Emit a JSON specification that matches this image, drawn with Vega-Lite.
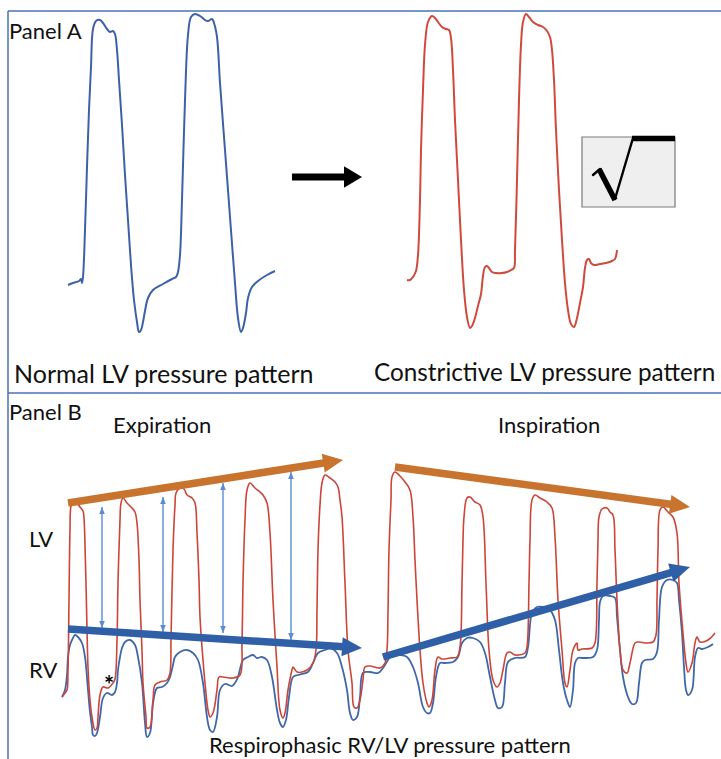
{
  "$schema": "https://vega.github.io/schema/vega-lite/v6.json",
  "width": 721,
  "height": 759,
  "padding": 0,
  "autosize": {"type": "none"},
  "background": "white",
  "config": {"view": {"stroke": null}},
  "datasets": {
    "frame": [
      {"x": 8, "y": 11, "x2": 721, "y2": 11},
      {"x": 8, "y": 11, "x2": 8, "y2": 759},
      {"x": 8, "y": 393, "x2": 721, "y2": 393}
    ],
    "normalA": [
      {"x": 68, "y": 285}, {"x": 73, "y": 283}, {"x": 79, "y": 281}, {"x": 81, "y": 279}, {"x": 82, "y": 283}, {"x": 83, "y": 277},
      {"x": 85, "y": 230}, {"x": 87, "y": 167}, {"x": 89, "y": 110}, {"x": 91, "y": 67}, {"x": 93, "y": 29}, {"x": 96, "y": 21},
      {"x": 100, "y": 20}, {"x": 103, "y": 23}, {"x": 107, "y": 29}, {"x": 110, "y": 32}, {"x": 113, "y": 31}, {"x": 115, "y": 34},
      {"x": 117, "y": 50}, {"x": 119, "y": 80}, {"x": 122, "y": 125}, {"x": 125, "y": 175}, {"x": 128, "y": 220}, {"x": 131, "y": 265},
      {"x": 134, "y": 300}, {"x": 137, "y": 322}, {"x": 139, "y": 332}, {"x": 141, "y": 330}, {"x": 143, "y": 322}, {"x": 145, "y": 311},
      {"x": 148, "y": 298}, {"x": 153, "y": 290}, {"x": 163, "y": 284}, {"x": 172, "y": 279}, {"x": 176, "y": 277}, {"x": 178, "y": 272},
      {"x": 180, "y": 255}, {"x": 182, "y": 200}, {"x": 185, "y": 100}, {"x": 188, "y": 35}, {"x": 191, "y": 17}, {"x": 195, "y": 14},
      {"x": 200, "y": 16}, {"x": 205, "y": 20}, {"x": 208, "y": 21}, {"x": 212, "y": 19}, {"x": 214, "y": 23}, {"x": 217, "y": 37},
      {"x": 220, "y": 83}, {"x": 225, "y": 150}, {"x": 230, "y": 217}, {"x": 235, "y": 283}, {"x": 238, "y": 318}, {"x": 241, "y": 332},
      {"x": 243, "y": 328}, {"x": 246, "y": 313}, {"x": 248, "y": 298}, {"x": 252, "y": 287}, {"x": 258, "y": 281}, {"x": 267, "y": 275},
      {"x": 275, "y": 271}
    ],
    "constrictA": [
      {"x": 407, "y": 280}, {"x": 410, "y": 280}, {"x": 413, "y": 277}, {"x": 416, "y": 271}, {"x": 418, "y": 255}, {"x": 420, "y": 200},
      {"x": 421, "y": 150}, {"x": 423, "y": 90}, {"x": 425, "y": 45}, {"x": 428, "y": 22}, {"x": 432, "y": 16}, {"x": 435, "y": 18},
      {"x": 438, "y": 22}, {"x": 442, "y": 27}, {"x": 446, "y": 29}, {"x": 449, "y": 30}, {"x": 451, "y": 38}, {"x": 453, "y": 70},
      {"x": 455, "y": 120}, {"x": 458, "y": 180}, {"x": 461, "y": 240}, {"x": 464, "y": 290}, {"x": 467, "y": 317}, {"x": 470, "y": 328},
      {"x": 472, "y": 326}, {"x": 475, "y": 318}, {"x": 478, "y": 306}, {"x": 481, "y": 294}, {"x": 483, "y": 276}, {"x": 485, "y": 267},
      {"x": 487, "y": 266}, {"x": 489, "y": 268}, {"x": 492, "y": 272}, {"x": 496, "y": 273}, {"x": 502, "y": 273}, {"x": 507, "y": 272},
      {"x": 511, "y": 270}, {"x": 514, "y": 268}, {"x": 515, "y": 250}, {"x": 517, "y": 180}, {"x": 519, "y": 100}, {"x": 521, "y": 45},
      {"x": 523, "y": 22}, {"x": 526, "y": 14}, {"x": 529, "y": 17}, {"x": 533, "y": 22}, {"x": 538, "y": 25}, {"x": 543, "y": 27},
      {"x": 547, "y": 31}, {"x": 550, "y": 37}, {"x": 552, "y": 50}, {"x": 554, "y": 80}, {"x": 556, "y": 130}, {"x": 559, "y": 190},
      {"x": 562, "y": 240}, {"x": 565, "y": 283}, {"x": 568, "y": 310}, {"x": 571, "y": 324}, {"x": 574, "y": 327}, {"x": 577, "y": 318},
      {"x": 580, "y": 303}, {"x": 583, "y": 287}, {"x": 585, "y": 268}, {"x": 587, "y": 260}, {"x": 589, "y": 259}, {"x": 591, "y": 263},
      {"x": 594, "y": 265}, {"x": 600, "y": 264}, {"x": 606, "y": 263}, {"x": 612, "y": 261}, {"x": 615, "y": 259}, {"x": 617, "y": 250}
    ],
    "lvB": [
      {"x": 62, "y": 697}, {"x": 65, "y": 693}, {"x": 67, "y": 690}, {"x": 68, "y": 670}, {"x": 69, "y": 600}, {"x": 70, "y": 530},
      {"x": 71, "y": 506}, {"x": 73, "y": 502}, {"x": 75, "y": 502}, {"x": 77, "y": 503}, {"x": 80, "y": 507}, {"x": 83, "y": 511},
      {"x": 84, "y": 518}, {"x": 85, "y": 545}, {"x": 86, "y": 583}, {"x": 87, "y": 630}, {"x": 88, "y": 667}, {"x": 90, "y": 700},
      {"x": 92, "y": 717}, {"x": 95, "y": 730}, {"x": 97, "y": 728}, {"x": 98, "y": 717}, {"x": 100, "y": 695}, {"x": 103, "y": 687},
      {"x": 108, "y": 688}, {"x": 113, "y": 683}, {"x": 115, "y": 679}, {"x": 117, "y": 640}, {"x": 118, "y": 583}, {"x": 120, "y": 520},
      {"x": 121, "y": 503}, {"x": 123, "y": 498}, {"x": 127, "y": 503}, {"x": 132, "y": 508}, {"x": 135, "y": 512}, {"x": 137, "y": 523},
      {"x": 139, "y": 560}, {"x": 140, "y": 600}, {"x": 142, "y": 650}, {"x": 143, "y": 683}, {"x": 146, "y": 717}, {"x": 147, "y": 728},
      {"x": 150, "y": 727}, {"x": 153, "y": 700}, {"x": 155, "y": 685}, {"x": 160, "y": 682}, {"x": 167, "y": 680}, {"x": 170, "y": 673},
      {"x": 171, "y": 640}, {"x": 173, "y": 550}, {"x": 175, "y": 505}, {"x": 176, "y": 493}, {"x": 180, "y": 488}, {"x": 184, "y": 489},
      {"x": 187, "y": 495}, {"x": 192, "y": 498}, {"x": 195, "y": 503}, {"x": 197, "y": 533}, {"x": 199, "y": 580}, {"x": 200, "y": 617},
      {"x": 203, "y": 660}, {"x": 205, "y": 683}, {"x": 208, "y": 710}, {"x": 210, "y": 717}, {"x": 213, "y": 713}, {"x": 217, "y": 690},
      {"x": 219, "y": 677}, {"x": 223, "y": 677}, {"x": 233, "y": 678}, {"x": 240, "y": 675}, {"x": 242, "y": 640}, {"x": 243, "y": 583},
      {"x": 245, "y": 520}, {"x": 247, "y": 490}, {"x": 250, "y": 483}, {"x": 255, "y": 488}, {"x": 260, "y": 492}, {"x": 263, "y": 495},
      {"x": 267, "y": 503}, {"x": 270, "y": 533}, {"x": 273, "y": 600}, {"x": 277, "y": 667}, {"x": 280, "y": 710}, {"x": 283, "y": 718},
      {"x": 285, "y": 713}, {"x": 288, "y": 690}, {"x": 292, "y": 670}, {"x": 293, "y": 667}, {"x": 297, "y": 672}, {"x": 307, "y": 670},
      {"x": 313, "y": 663}, {"x": 316, "y": 650}, {"x": 317, "y": 610}, {"x": 318, "y": 550}, {"x": 320, "y": 505}, {"x": 322, "y": 483},
      {"x": 325, "y": 475}, {"x": 330, "y": 478}, {"x": 335, "y": 482}, {"x": 338, "y": 487}, {"x": 340, "y": 500}, {"x": 342, "y": 517},
      {"x": 345, "y": 583}, {"x": 348, "y": 650}, {"x": 352, "y": 683}, {"x": 354, "y": 707}, {"x": 357, "y": 708}, {"x": 360, "y": 700},
      {"x": 363, "y": 680}, {"x": 365, "y": 667}, {"x": 370, "y": 666}, {"x": 380, "y": 668}, {"x": 385, "y": 663}, {"x": 387, "y": 650},
      {"x": 388, "y": 613}, {"x": 389, "y": 550}, {"x": 391, "y": 500}, {"x": 392, "y": 477}, {"x": 395, "y": 472}, {"x": 400, "y": 476},
      {"x": 405, "y": 482}, {"x": 410, "y": 490}, {"x": 413, "y": 517}, {"x": 415, "y": 560}, {"x": 417, "y": 600}, {"x": 420, "y": 650},
      {"x": 423, "y": 683}, {"x": 427, "y": 703}, {"x": 429, "y": 707}, {"x": 432, "y": 700}, {"x": 435, "y": 670}, {"x": 438, "y": 657},
      {"x": 442, "y": 659}, {"x": 450, "y": 658}, {"x": 457, "y": 657}, {"x": 460, "y": 647}, {"x": 462, "y": 583}, {"x": 463, "y": 540},
      {"x": 464, "y": 517}, {"x": 467, "y": 498}, {"x": 470, "y": 497}, {"x": 475, "y": 502}, {"x": 480, "y": 505}, {"x": 483, "y": 517},
      {"x": 486, "y": 583}, {"x": 489, "y": 650}, {"x": 493, "y": 680}, {"x": 497, "y": 687}, {"x": 500, "y": 683}, {"x": 503, "y": 670},
      {"x": 507, "y": 653}, {"x": 510, "y": 652}, {"x": 515, "y": 655}, {"x": 525, "y": 653}, {"x": 527, "y": 647}, {"x": 529, "y": 583},
      {"x": 530, "y": 540}, {"x": 532, "y": 500}, {"x": 535, "y": 495}, {"x": 540, "y": 498}, {"x": 547, "y": 502}, {"x": 552, "y": 508},
      {"x": 555, "y": 537}, {"x": 558, "y": 600}, {"x": 562, "y": 650}, {"x": 565, "y": 683}, {"x": 567, "y": 687}, {"x": 570, "y": 670},
      {"x": 573, "y": 650}, {"x": 577, "y": 643}, {"x": 578, "y": 650}, {"x": 582, "y": 649}, {"x": 592, "y": 648}, {"x": 595, "y": 643},
      {"x": 597, "y": 583}, {"x": 598, "y": 540}, {"x": 599, "y": 517}, {"x": 602, "y": 509}, {"x": 607, "y": 508}, {"x": 610, "y": 512},
      {"x": 613, "y": 515}, {"x": 615, "y": 550}, {"x": 617, "y": 600}, {"x": 620, "y": 650}, {"x": 623, "y": 670}, {"x": 627, "y": 673},
      {"x": 630, "y": 663}, {"x": 635, "y": 643}, {"x": 638, "y": 642}, {"x": 647, "y": 643}, {"x": 653, "y": 642}, {"x": 656, "y": 635},
      {"x": 657, "y": 600}, {"x": 658, "y": 550}, {"x": 660, "y": 510}, {"x": 663, "y": 507}, {"x": 668, "y": 512}, {"x": 673, "y": 517},
      {"x": 677, "y": 533}, {"x": 679, "y": 583}, {"x": 683, "y": 633}, {"x": 686, "y": 663}, {"x": 688, "y": 672}, {"x": 692, "y": 663},
      {"x": 695, "y": 643}, {"x": 697, "y": 637}, {"x": 700, "y": 642}, {"x": 708, "y": 640}, {"x": 715, "y": 633}
    ],
    "rvB": [
      {"x": 62, "y": 697}, {"x": 65, "y": 690}, {"x": 67, "y": 675}, {"x": 68, "y": 657}, {"x": 70, "y": 645}, {"x": 72, "y": 640},
      {"x": 75, "y": 635}, {"x": 78, "y": 637}, {"x": 82, "y": 643}, {"x": 85, "y": 657}, {"x": 88, "y": 690}, {"x": 90, "y": 712},
      {"x": 92, "y": 727}, {"x": 93, "y": 735}, {"x": 95, "y": 736}, {"x": 97, "y": 733}, {"x": 100, "y": 717}, {"x": 103, "y": 698},
      {"x": 107, "y": 693}, {"x": 112, "y": 695}, {"x": 115, "y": 692}, {"x": 117, "y": 683}, {"x": 118, "y": 670}, {"x": 120, "y": 657},
      {"x": 122, "y": 648}, {"x": 125, "y": 642}, {"x": 130, "y": 640}, {"x": 135, "y": 645}, {"x": 138, "y": 657}, {"x": 142, "y": 683},
      {"x": 145, "y": 723}, {"x": 147, "y": 737}, {"x": 150, "y": 733}, {"x": 153, "y": 703}, {"x": 157, "y": 688}, {"x": 162, "y": 687},
      {"x": 167, "y": 683}, {"x": 170, "y": 677}, {"x": 173, "y": 665}, {"x": 175, "y": 657}, {"x": 180, "y": 652}, {"x": 187, "y": 650},
      {"x": 193, "y": 653}, {"x": 198, "y": 660}, {"x": 203, "y": 683}, {"x": 207, "y": 717}, {"x": 210, "y": 730}, {"x": 213, "y": 732},
      {"x": 217, "y": 717}, {"x": 220, "y": 690}, {"x": 225, "y": 684}, {"x": 232, "y": 686}, {"x": 235, "y": 683}, {"x": 238, "y": 677},
      {"x": 243, "y": 660}, {"x": 248, "y": 657}, {"x": 253, "y": 655}, {"x": 257, "y": 658}, {"x": 262, "y": 657}, {"x": 267, "y": 660},
      {"x": 272, "y": 677}, {"x": 277, "y": 710}, {"x": 280, "y": 723}, {"x": 283, "y": 727}, {"x": 286, "y": 720}, {"x": 289, "y": 697},
      {"x": 293, "y": 677}, {"x": 298, "y": 675}, {"x": 308, "y": 672}, {"x": 313, "y": 663}, {"x": 318, "y": 653}, {"x": 325, "y": 650},
      {"x": 330, "y": 648}, {"x": 337, "y": 653}, {"x": 342, "y": 667}, {"x": 347, "y": 690}, {"x": 350, "y": 713}, {"x": 353, "y": 720},
      {"x": 357, "y": 717}, {"x": 360, "y": 697}, {"x": 363, "y": 673}, {"x": 370, "y": 672}, {"x": 378, "y": 673}, {"x": 383, "y": 668},
      {"x": 388, "y": 660}, {"x": 393, "y": 653}, {"x": 400, "y": 655}, {"x": 407, "y": 657}, {"x": 413, "y": 667}, {"x": 418, "y": 683},
      {"x": 423, "y": 707}, {"x": 427, "y": 713}, {"x": 430, "y": 713}, {"x": 433, "y": 703}, {"x": 436, "y": 677}, {"x": 440, "y": 663},
      {"x": 445, "y": 663}, {"x": 453, "y": 662}, {"x": 458, "y": 657}, {"x": 462, "y": 643}, {"x": 467, "y": 638}, {"x": 473, "y": 638},
      {"x": 480, "y": 642}, {"x": 485, "y": 653}, {"x": 490, "y": 677}, {"x": 495, "y": 700}, {"x": 498, "y": 708}, {"x": 502, "y": 707},
      {"x": 505, "y": 683}, {"x": 508, "y": 662}, {"x": 515, "y": 658}, {"x": 525, "y": 657}, {"x": 528, "y": 647}, {"x": 532, "y": 613},
      {"x": 537, "y": 607}, {"x": 543, "y": 607}, {"x": 550, "y": 610}, {"x": 555, "y": 620}, {"x": 559, "y": 650}, {"x": 563, "y": 683},
      {"x": 567, "y": 700}, {"x": 570, "y": 707}, {"x": 573, "y": 690}, {"x": 575, "y": 663}, {"x": 578, "y": 658}, {"x": 583, "y": 658},
      {"x": 593, "y": 657}, {"x": 597, "y": 650}, {"x": 599, "y": 620}, {"x": 600, "y": 602}, {"x": 603, "y": 596}, {"x": 610, "y": 596},
      {"x": 615, "y": 598}, {"x": 617, "y": 617}, {"x": 620, "y": 650}, {"x": 623, "y": 677}, {"x": 628, "y": 697}, {"x": 632, "y": 704},
      {"x": 636, "y": 703}, {"x": 639, "y": 683}, {"x": 642, "y": 663}, {"x": 645, "y": 660}, {"x": 653, "y": 659}, {"x": 657, "y": 652},
      {"x": 659, "y": 620}, {"x": 662, "y": 587}, {"x": 667, "y": 580}, {"x": 673, "y": 580}, {"x": 677, "y": 583}, {"x": 679, "y": 600},
      {"x": 682, "y": 633}, {"x": 684, "y": 667}, {"x": 686, "y": 690}, {"x": 688, "y": 695}, {"x": 692, "y": 690}, {"x": 695, "y": 657},
      {"x": 698, "y": 648}, {"x": 702, "y": 649}, {"x": 708, "y": 647}, {"x": 713, "y": 644}
    ],
    "bigArrows": [
      {"series": "LV", "x": 68, "y": 503, "x2": 343, "y2": 460},
      {"series": "LV", "x": 395, "y": 467, "x2": 690, "y2": 507},
      {"series": "RV", "x": 68, "y": 629, "x2": 362, "y2": 648},
      {"series": "RV", "x": 383, "y": 657, "x2": 690, "y2": 567}
    ],
    "shiftArrow": [
      {"x": 292, "y": 177, "x2": 362, "y2": 177}
    ],
    "gaps": [
      {"x": 102, "y": 507, "y2": 628},
      {"x": 163, "y": 497, "y2": 632},
      {"x": 223, "y": 483, "y2": 633},
      {"x": 291, "y": 472, "y2": 640}
    ],
    "sqrtBox": [
      {"x": 582, "y": 137, "x2": 675, "y2": 207}
    ],
    "sqrtThick": [
      {"x": 599, "y": 169, "x2": 615, "y2": 200},
      {"x": 632, "y": 138.5, "x2": 675, "y2": 138.5}
    ],
    "sqrtThin": [
      {"x": 593, "y": 175, "x2": 600, "y2": 169},
      {"x": 615, "y": 199, "x2": 633, "y2": 138}
    ],
    "labelNormal": [
      {"label": "Normal LV pressure pattern", "x": 14, "y": 383}
    ],
    "labelConstrictive": [
      {"label": "Constrictive LV pressure pattern", "x": 374, "y": 381}
    ],
    "labelsBottom": [
      {"label": "Respirophasic RV/LV pressure pattern", "x": 209, "y": 753}
    ],
    "labelsSmall": [
      {"label": "Panel A", "x": 9, "y": 39},
      {"label": "Panel B", "x": 9, "y": 420},
      {"label": "Expiration", "x": 113, "y": 433},
      {"label": "Inspiration", "x": 498, "y": 433},
      {"label": "LV", "x": 29, "y": 547},
      {"label": "RV", "x": 29, "y": 678}
    ],
    "marker": [
      {"label": "*", "x": 109, "y": 694}
    ]
  },
  "encoding": {
    "x": {"field": "x", "type": "quantitative", "scale": {"domain": [0, 721], "nice": false, "zero": false}, "axis": null},
    "y": {"field": "y", "type": "quantitative", "scale": {"domain": [0, 759], "nice": false, "zero": false, "reverse": true}, "axis": null}
  },
  "layer": [
    {
      "data": {"name": "frame"},
      "mark": {"type": "rule", "color": "#4a72b8", "strokeWidth": 1.5},
      "encoding": {"x2": {"field": "x2"}, "y2": {"field": "y2"}}
    },
    {
      "data": {"name": "sqrtBox"},
      "mark": {"type": "rect", "fill": "#efefef", "stroke": "#7a7a7a", "strokeWidth": 1.2},
      "encoding": {"x2": {"field": "x2"}, "y2": {"field": "y2"}}
    },
    {
      "data": {"name": "sqrtThick"},
      "mark": {"type": "rule", "color": "#000000", "strokeWidth": 5.5, "strokeCap": "butt"},
      "encoding": {"x2": {"field": "x2"}, "y2": {"field": "y2"}}
    },
    {
      "data": {"name": "sqrtThin"},
      "mark": {"type": "rule", "color": "#000000", "strokeWidth": 2.4, "strokeCap": "round"},
      "encoding": {"x2": {"field": "x2"}, "y2": {"field": "y2"}}
    },
    {
      "data": {"name": "normalA"},
      "transform": [{"window": [{"op": "row_number", "as": "i"}]}],
      "mark": {"type": "line", "color": "#3d61a9", "strokeWidth": 2, "interpolate": "catmull-rom"},
      "encoding": {"order": {"field": "i", "type": "quantitative"}}
    },
    {
      "data": {"name": "constrictA"},
      "transform": [{"window": [{"op": "row_number", "as": "i"}]}],
      "mark": {"type": "line", "color": "#cf4a3c", "strokeWidth": 2, "interpolate": "catmull-rom"},
      "encoding": {"order": {"field": "i", "type": "quantitative"}}
    },
    {
      "data": {"name": "shiftArrow"},
      "transform": [
        {"calculate": "atan2(datum.y2 - datum.y, datum.x2 - datum.x)", "as": "ang"},
        {"calculate": "datum.ang * 180 / PI", "as": "deg"},
        {"calculate": "datum.x2 - 16 * cos(datum.ang)", "as": "xb"},
        {"calculate": "datum.y2 - 16 * sin(datum.ang)", "as": "yb"}
      ],
      "layer": [
        {
          "mark": {"type": "rule", "color": "#000000", "strokeWidth": 7, "strokeCap": "butt"},
          "encoding": {"x2": {"field": "xb"}, "y2": {"field": "yb"}}
        },
        {
          "mark": {"type": "point", "shape": "M0,0L-2,-1.2L-2,1.2Z", "size": 324, "filled": true, "color": "#000000", "opacity": 1, "strokeWidth": 0},
          "encoding": {
            "x": {"field": "x2", "type": "quantitative"},
            "y": {"field": "y2", "type": "quantitative"},
            "angle": {"field": "deg", "type": "quantitative", "scale": null}
          }
        }
      ]
    },
    {
      "data": {"name": "rvB"},
      "transform": [{"window": [{"op": "row_number", "as": "i"}]}],
      "mark": {"type": "line", "color": "#3f67ab", "strokeWidth": 1.8, "interpolate": "catmull-rom"},
      "encoding": {"order": {"field": "i", "type": "quantitative"}}
    },
    {
      "data": {"name": "lvB"},
      "transform": [{"window": [{"op": "row_number", "as": "i"}]}],
      "mark": {"type": "line", "color": "#cc4538", "strokeWidth": 1.6, "interpolate": "catmull-rom"},
      "encoding": {"order": {"field": "i", "type": "quantitative"}}
    },
    {
      "data": {"name": "gaps"},
      "layer": [
        {
          "mark": {"type": "rule", "color": "#5b8bd3", "strokeWidth": 1.4},
          "encoding": {"y2": {"field": "y2"}}
        },
        {
          "mark": {"type": "point", "shape": "M0,0L-0.8,2L0.8,2Z", "size": 49, "filled": true, "color": "#5b8bd3", "opacity": 1, "strokeWidth": 0}
        },
        {
          "mark": {"type": "point", "shape": "M0,0L-0.8,-2L0.8,-2Z", "size": 49, "filled": true, "color": "#5b8bd3", "opacity": 1, "strokeWidth": 0},
          "encoding": {"y": {"field": "y2", "type": "quantitative"}}
        }
      ]
    },
    {
      "data": {"name": "bigArrows"},
      "transform": [
        {"calculate": "atan2(datum.y2 - datum.y, datum.x2 - datum.x)", "as": "ang"},
        {"calculate": "datum.ang * 180 / PI", "as": "deg"},
        {"calculate": "datum.x2 - 18 * cos(datum.ang)", "as": "xb"},
        {"calculate": "datum.y2 - 18 * sin(datum.ang)", "as": "yb"}
      ],
      "layer": [
        {
          "mark": {"type": "rule", "strokeWidth": 7.5, "strokeCap": "butt"},
          "encoding": {
            "x2": {"field": "xb"}, "y2": {"field": "yb"},
            "color": {"field": "series", "type": "nominal", "scale": {"domain": ["LV", "RV"], "range": ["#c8742f", "#2f5fa7"]}, "legend": null}
          }
        },
        {
          "mark": {"type": "point", "shape": "M0,0L-2,-0.95L-2,0.95Z", "size": 400, "filled": true, "opacity": 1, "strokeWidth": 0},
          "encoding": {
            "x": {"field": "x2", "type": "quantitative"},
            "y": {"field": "y2", "type": "quantitative"},
            "angle": {"field": "deg", "type": "quantitative", "scale": null},
            "color": {"field": "series", "type": "nominal", "scale": {"domain": ["LV", "RV"], "range": ["#c8742f", "#2f5fa7"]}, "legend": null}
          }
        }
      ]
    },
    {
      "data": {"name": "labelNormal"},
      "mark": {"type": "text", "font": "Lato", "fontSize": 25, "align": "left", "baseline": "alphabetic", "color": "#111111"},
      "encoding": {"text": {"field": "label"}}
    },
    {
      "data": {"name": "labelConstrictive"},
      "mark": {"type": "text", "font": "Lato", "fontSize": 24.3, "align": "left", "baseline": "alphabetic", "color": "#111111"},
      "encoding": {"text": {"field": "label"}}
    },
    {
      "data": {"name": "labelsBottom"},
      "mark": {"type": "text", "font": "Lato", "fontSize": 22, "align": "left", "baseline": "alphabetic", "color": "#111111"},
      "encoding": {"text": {"field": "label"}}
    },
    {
      "data": {"name": "labelsSmall"},
      "mark": {"type": "text", "font": "Lato", "fontSize": 22, "align": "left", "baseline": "alphabetic", "color": "#111111"},
      "encoding": {"text": {"field": "label"}}
    },
    {
      "data": {"name": "marker"},
      "mark": {"type": "text", "font": "Lato", "fontSize": 24, "fontWeight": "bold", "align": "center", "baseline": "alphabetic", "color": "#000000"},
      "encoding": {"text": {"field": "label"}}
    }
  ]
}
